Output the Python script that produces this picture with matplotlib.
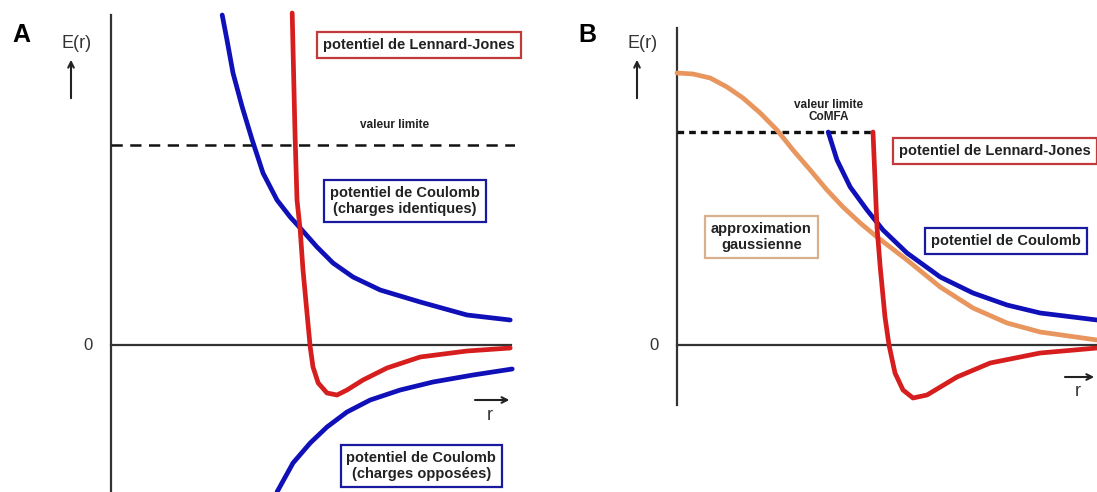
import matplotlib
matplotlib.use('Agg')
import matplotlib.pyplot as plt

plt.rcParams['font.family'] = ['Liberation Sans', 'DejaVu Sans']

# Panel A : valeurs (r et E en unites arbitraires)
r_coul_id = [2.78, 2.9, 3.05, 3.28, 3.53, 3.8, 4.15, 4.48, 4.73, 5.15, 5.55, 6.05, 6.73, 7.73, 8.9, 9.98]
E_coul_id = [16.5, 15.25, 13.6, 11.9, 10.25, 8.6, 7.25, 6.4, 5.85, 4.9, 4.1, 3.4, 2.75, 2.15, 1.5, 1.25]

r_lj_a = [4.53, 4.6, 4.65, 4.73, 4.8, 4.9, 4.98, 5.05, 5.18, 5.4, 5.65, 5.9, 6.3, 6.9, 7.73, 8.9, 9.98]
E_lj_a = [16.6, 10.6, 7.25, 5.75, 3.75, 1.6, -0.1, -1.1, -1.9, -2.4, -2.5, -2.25, -1.75, -1.15, -0.6, -0.3, -0.15]

r_coul_op = [4.15, 4.55, 4.98, 5.4, 5.9, 6.48, 7.23, 8.05, 9.05, 10.03]
E_coul_op = [-7.35, -5.9, -4.9, -4.1, -3.35, -2.75, -2.25, -1.85, -1.5, -1.2]

limite_a = 10.0

# Panel B
r_lj_b = [4.9, 5.0, 5.08, 5.2, 5.3, 5.45, 5.65, 5.9, 6.25, 7.0, 7.83, 9.08, 10.5]
E_lj_b = [10.65, 5.9, 3.9, 1.4, 0.0, -1.4, -2.25, -2.65, -2.5, -1.6, -0.9, -0.4, -0.15]

r_coul_b = [3.78, 4.0, 4.33, 4.75, 5.15, 5.75, 6.58, 7.4, 8.25, 9.08, 10.5]
E_coul_b = [10.65, 9.25, 7.9, 6.75, 5.75, 4.6, 3.4, 2.6, 2.0, 1.6, 1.25]

r_gauss = [0, 0.4, 0.83, 1.25, 1.65, 2.08, 2.5, 2.9, 3.33, 3.75, 4.15, 4.58, 5.0,
           5.75, 6.58, 7.4, 8.25, 9.08, 10.5]
E_gauss = [13.6, 13.55, 13.35, 12.9, 12.35, 11.6, 10.75, 9.75, 8.75, 7.75, 6.9, 6.1, 5.4,
           4.25, 2.9, 1.85, 1.1, 0.65, 0.25]

limite_b = 10.65

bleu = '#1010b8'
rouge = '#d61e1e'
orange = '#e8955e'

fig = plt.figure(figsize=(10.97, 4.92), dpi=100)
axA = fig.add_axes([111/1097, 0, 404/1097, 1])
axB = fig.add_axes([677/1097, 0, 420/1097, 1])

axA.set_xlim(0, 10.1)
axB.set_xlim(0, 10.5)
for ax in (axA, axB):
    ax.set_ylim(-7.35, 17.25)
    ax.axis('off')


def boite(ax, x, y, texte, couleur, ha='center'):
    ax.text(x, y, texte, ha=ha, va='center', fontsize=10.5, fontweight='bold',
            color='#222222', linespacing=1.25,
            bbox=dict(boxstyle='square,pad=0.4', fc='white', ec=couleur, lw=1.6))


def axes_fleches(ax, y_haut, y_bas, x_zero, r_fleche, y_fleche, r_label):
    # axes du schema
    ax.plot([0, 0], [y_bas, y_haut], color='#333333', lw=1.6, clip_on=False)
    ax.plot([0, x_zero], [0, 0], color='#333333', lw=1.6, clip_on=False)
    ax.text(-0.45, 0, '0', ha='right', va='center', fontsize=12, color='#333333')
    ax.text(-0.85, 15.05, 'E(r)', ha='center', va='center', fontsize=13, color='#333333')
    ax.annotate('', xy=(-1.0, 14.4), xytext=(-1.0, 12.2), annotation_clip=False,
                arrowprops=dict(arrowstyle='->', color='#222222', lw=1.5))
    ax.annotate('', xy=(r_fleche[1], y_fleche), xytext=(r_fleche[0], y_fleche),
                annotation_clip=False,
                arrowprops=dict(arrowstyle='->', color='#222222', lw=1.5))
    ax.text(r_label, y_fleche - 0.75, 'r', ha='center', va='center', fontsize=13, color='#333333')


# ---- Panel A ----
axes_fleches(axA, 16.5, -7.35, 10.0, (9.03, 10.03), -2.75, 9.48)
axA.plot([0, 10.1], [limite_a, limite_a], color='#111111', lw=1.8, ls=(0, (4.5, 3)))
axA.plot(r_coul_id, E_coul_id, color=bleu, lw=3.4, solid_capstyle='round', solid_joinstyle='round')
axA.plot(r_coul_op, E_coul_op, color=bleu, lw=3.4, solid_capstyle='round', solid_joinstyle='round',
         clip_on=False)
axA.plot(r_lj_a, E_lj_a, color=rouge, lw=3.4, solid_capstyle='round', solid_joinstyle='round')

axA.text(7.1, 11.0, 'valeur limite', ha='center', va='center', fontsize=8.5,
         fontweight='bold', color='#222222')
boite(axA, 7.7, 15.0, 'potentiel de Lennard-Jones', '#c23a3a')
boite(axA, 7.35, 7.2, 'potentiel de Coulomb\n(charges identiques)', '#1a1aa0')
boite(axA, 7.76, -6.05, 'potentiel de Coulomb\n(charges opposées)', '#1a1aa0')
axA.text(-2.25, 15.5, 'A', ha='center', va='center', fontsize=18, fontweight='bold')

# ---- Panel B ----
axes_fleches(axB, 15.85, -3.0, 10.5, (9.63, 10.5), -1.6, 10.03)
axB.plot([0, 4.9], [limite_b, limite_b], color='#111111', lw=2.4, ls=(0, (2, 1.5)))
axB.plot(r_gauss, E_gauss, color=orange, lw=3.4, solid_capstyle='round', solid_joinstyle='round',
         clip_on=False)
axB.plot(r_coul_b, E_coul_b, color=bleu, lw=3.4, solid_capstyle='round', solid_joinstyle='round',
         clip_on=False)
axB.plot(r_lj_b, E_lj_b, color=rouge, lw=3.4, solid_capstyle='round', solid_joinstyle='round',
         clip_on=False)

axB.text(3.8, 11.7, 'valeur limite\nCoMFA', ha='center', va='center', fontsize=8.5,
         fontweight='bold', color='#222222', linespacing=1.05)
boite(axB, 5.55, 9.7, 'potentiel de Lennard-Jones', '#c23a3a', ha='left')
boite(axB, 2.11, 5.4, 'approximation\ngaussienne', '#d9b08c')
boite(axB, 8.23, 5.2, 'potentiel de Coulomb', '#1a1aa0')
axB.text(-2.25, 15.5, 'B', ha='center', va='center', fontsize=18, fontweight='bold')

plt.savefig('out.png', dpi=100)
